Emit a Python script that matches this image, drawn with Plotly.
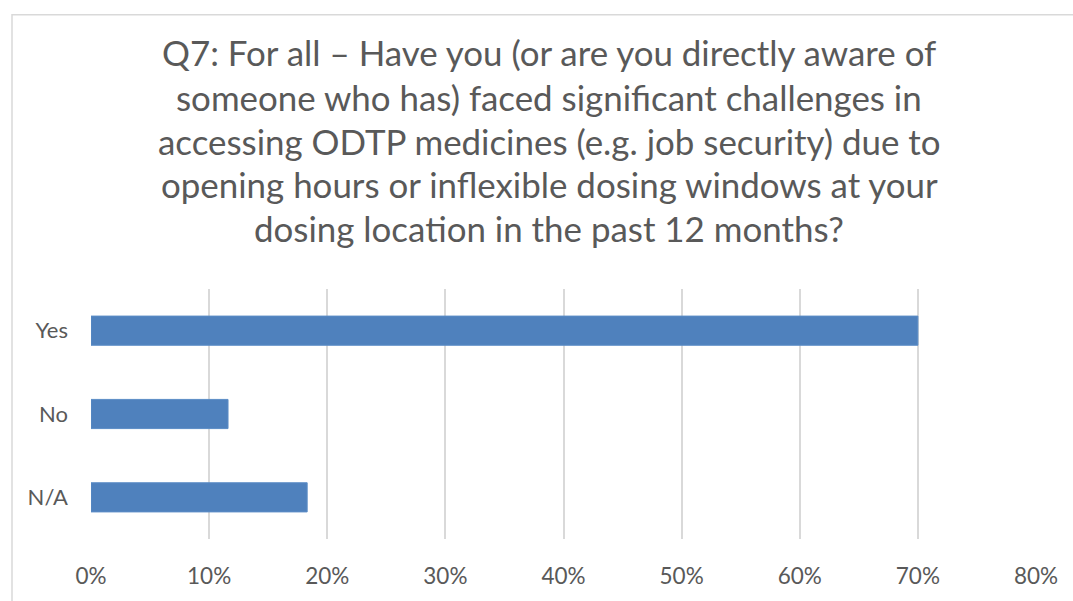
import plotly.graph_objects as go

categories = ["Yes", "No", "N/A"]
values = [0.70, 0.116, 0.183]
x_ticks = [0, 0.1, 0.2, 0.3, 0.4, 0.5, 0.6, 0.7, 0.8]
title_lines = [
    "Q7: For all – Have you (or are you directly aware of",
    "someone who has) faced significant challenges in",
    "accessing ODTP medicines (e.g. job security) due to",
    "opening hours or inflexible dosing windows at your",
    "dosing location in the past 12 months?",
]

W, H = 1073, 601
L, R, T, B = 91, 37, 289, 55
pw, ph = W - L - R, H - T - B

def px_x(X):
    return (X - L) / pw

def px_y(Y):
    return (H - B - Y) / ph

FONT = "Lato"
TXT = "#595959"

fig = go.Figure(go.Bar(
    x=values, y=categories, orientation="h",
    marker=dict(color="#4F81BD", line=dict(color="#5B8CC6", width=1)),
    width=0.35,
))

title_y = [46, 92, 137, 182, 227]
for line, yy in zip(title_lines, title_y):
    fig.add_annotation(text=line, xref="paper", yref="paper",
                       x=px_x(549), y=px_y(yy), xanchor="center", yanchor="middle",
                       showarrow=False, font=dict(family=FONT, size=34.9, color=TXT))

fig.add_shape(type="rect", xref="paper", yref="paper",
              x0=px_x(12), x1=px_x(1090), y0=px_y(7), y1=px_y(620),
              line=dict(color="#D9D9D9", width=1.5), layer="below")

fig.update_layout(
    width=W, height=H,
    margin=dict(l=L, r=R, t=T, b=B, pad=0),
    paper_bgcolor="white", plot_bgcolor="white",
    showlegend=False,
    font=dict(family=FONT, color=TXT),
    xaxis=dict(range=[0, 0.8], tickvals=x_ticks, tickformat=".0%",
               showgrid=True, gridcolor="#D9D9D9", gridwidth=1.5,
               zeroline=False, showline=False, ticks="",
               tickfont=dict(family=FONT, size=22.5, color=TXT),
               ticklabelstandoff=21, fixedrange=True),
    yaxis=dict(autorange="reversed", showgrid=False, zeroline=False,
               showline=False, ticks="",
               tickfont=dict(family=FONT, size=22, color=TXT),
               ticklabelstandoff=22, fixedrange=True),
)

fig.write_html("out.html", config={"displayModeBar": False},
               post_script="document.body.style.margin='0';")
